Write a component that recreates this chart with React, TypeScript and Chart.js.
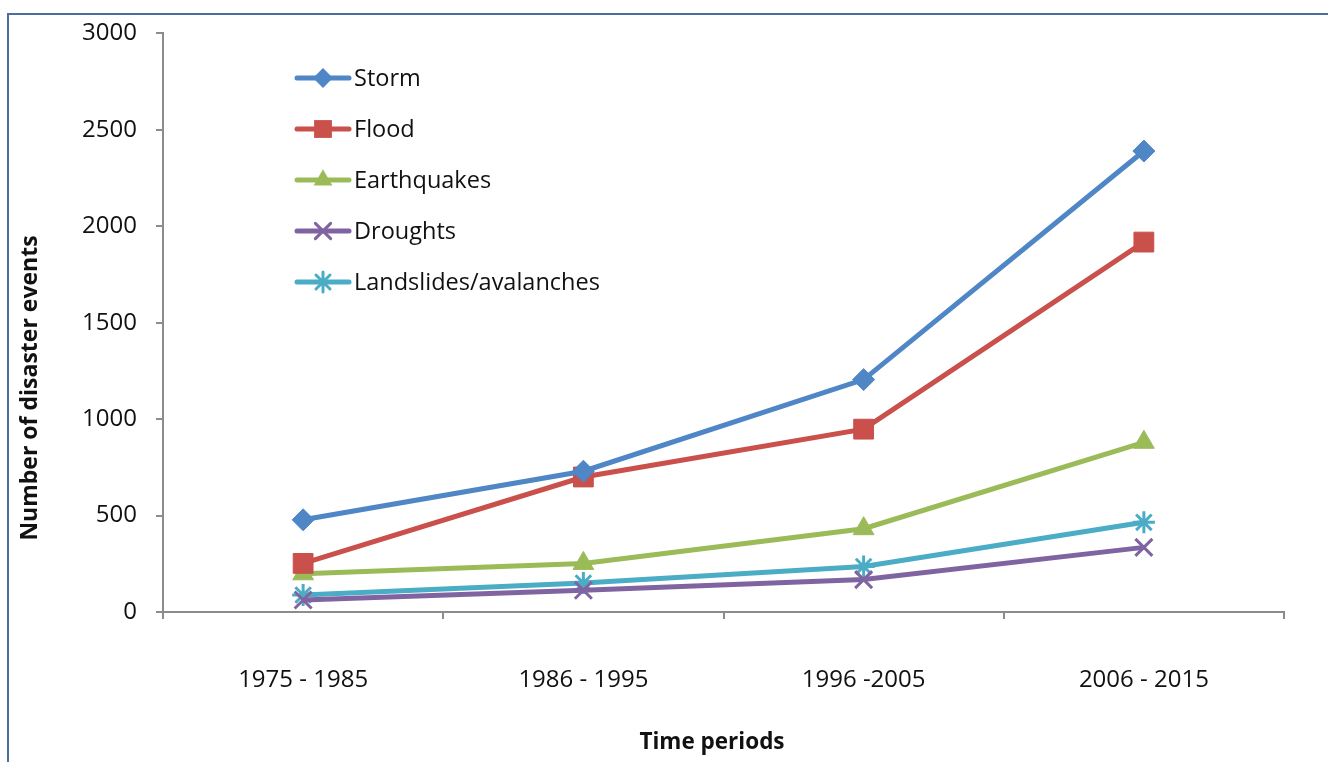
import React, { useEffect, useRef } from "react";
import { Chart, registerables } from "chart.js";

Chart.register(...registerables);

const categories = ["1975 - 1985", "1986 - 1995", "1996 -2005", "2006 - 2015"];
const storm = [478, 730, 1205, 2390];
const flood = [252, 700, 948, 1918];
const earthquakes = [198, 252, 432, 880];
const droughts = [62, 113, 168, 335];
const landslides = [88, 150, 236, 465];
const yTicks = [0, 500, 1000, 1500, 2000, 2500, 3000];
const xTitle = "Time periods";
const yTitle = "Number of disaster events";

const FONT = "'Open Sans', 'Liberation Sans', sans-serif";

const seriesDefs = [
  { label: "Storm", data: storm, color: "#4F86C6", style: "rectRot", radius: 11 },
  { label: "Flood", data: flood, color: "#C9504B", style: "rect", radius: 14 },
  { label: "Earthquakes", data: earthquakes, color: "#9BBB59", style: "triangle", radius: 12 },
  { label: "Droughts", data: droughts, color: "#8064A2", style: "crossRot", radius: 12 },
  { label: "Landslides/avalanches", data: landslides, color: "#4BACC6", style: "star", radius: 11 },
];

function drawPointShape(ctx: CanvasRenderingContext2D, style: string, r: number, x: number, y: number) {
  ctx.beginPath();
  const Q = Math.PI / 4;
  if (style === "rectRot") {
    ctx.moveTo(x, y - r);
    ctx.lineTo(x + r, y);
    ctx.lineTo(x, y + r);
    ctx.lineTo(x - r, y);
    ctx.closePath();
    ctx.fill();
  } else if (style === "rect") {
    const s = Math.SQRT1_2 * r;
    ctx.rect(x - s, y - s, 2 * s, 2 * s);
    ctx.fill();
  } else if (style === "triangle") {
    ctx.moveTo(x, y - r);
    ctx.lineTo(x + r * 0.866, y + r * 0.5);
    ctx.lineTo(x - r * 0.866, y + r * 0.5);
    ctx.closePath();
    ctx.fill();
  } else if (style === "crossRot") {
    const o = Math.cos(Q) * r;
    ctx.moveTo(x - o, y - o);
    ctx.lineTo(x + o, y + o);
    ctx.moveTo(x - o, y + o);
    ctx.lineTo(x + o, y - o);
    ctx.stroke();
  } else if (style === "star") {
    const o = Math.cos(Q) * r;
    ctx.moveTo(x - o, y - o);
    ctx.lineTo(x + o, y + o);
    ctx.moveTo(x - o, y + o);
    ctx.lineTo(x + o, y - o);
    ctx.moveTo(x, y - r);
    ctx.lineTo(x, y + r);
    ctx.moveTo(x - r, y);
    ctx.lineTo(x + r, y);
    ctx.stroke();
  }
}

const legendPlugin = {
  id: "insideLegend",
  afterDraw(chart: any, _args: any, opts: any) {
    const ctx = chart.ctx;
    const { x0, y0, step, lineLen, textGap } = opts;
    chart.data.datasets.forEach((ds: any, i: number) => {
      const y = y0 + i * step;
      ctx.save();
      ctx.strokeStyle = ds.borderColor;
      ctx.lineWidth = 5;
      ctx.lineCap = "round";
      ctx.beginPath();
      ctx.moveTo(x0, y);
      ctx.lineTo(x0 + lineLen, y);
      ctx.stroke();
      ctx.fillStyle = ds.pointBackgroundColor;
      ctx.strokeStyle = ds.pointBorderColor;
      ctx.lineWidth = ds.pointBorderWidth;
      drawPointShape(ctx, ds.pointStyle, ds.pointRadius * 0.9, x0 + lineLen / 2, y);
      ctx.fillStyle = "#111";
      ctx.font = `23.5px ${FONT}`;
      ctx.textBaseline = "middle";
      ctx.textAlign = "left";
      ctx.fillText(ds.label, x0 + lineLen + textGap, y + 1);
      ctx.restore();
    });
  },
};

const titlesPlugin = {
  id: "axisTitles",
  afterDraw(chart: any, _args: any, opts: any) {
    const ctx = chart.ctx;
    ctx.save();
    ctx.fillStyle = "#111";
    ctx.font = `bold 22.5px ${FONT}`;
    ctx.textAlign = "center";
    ctx.textBaseline = "middle";
    ctx.fillText(opts.xText, opts.xX, opts.xY);
    ctx.translate(opts.yX, opts.yY);
    ctx.rotate(-Math.PI / 2);
    ctx.font = `bold 23px ${FONT}`;
    ctx.fillText(opts.yText, 0, 0);
    ctx.restore();
  },
};

export default function App() {
  const canvasRef = useRef<HTMLCanvasElement | null>(null);

  useEffect(() => {
    if (!canvasRef.current) return;
    const axisColor = "#8C8C8C";
    const chart = new Chart(canvasRef.current, {
      type: "line",
      data: {
        labels: categories,
        datasets: seriesDefs.map((s) => ({
          label: s.label,
          data: s.data,
          borderColor: s.color,
          backgroundColor: s.color,
          borderWidth: 5,
          pointStyle: s.style as any,
          pointRadius: s.radius,
          pointBackgroundColor: s.color,
          pointBorderColor: s.color,
          pointBorderWidth: s.style === "crossRot" || s.style === "star" ? 3 : 1,
          tension: 0,
        })),
      },
      options: {
        animation: false,
        responsive: false,
        events: [],
        layout: { padding: { top: 27, right: 44, left: 0, bottom: 0 } },
        plugins: {
          legend: { display: false },
          tooltip: { enabled: false },
          insideLegend: { x0: 297, y0: 78, step: 51, lineLen: 52, textGap: 5 },
          axisTitles: { xText: xTitle, xX: 712, xY: 743, yText: yTitle, yX: 30, yY: 388 },
        } as any,
        scales: {
          x: {
            type: "category",
            offset: true,
            grid: {
              offset: true,
              drawOnChartArea: false,
              drawTicks: true,
              tickLength: 7,
              color: axisColor,
              lineWidth: 2,
            },
            border: { color: axisColor, width: 2 },
            ticks: {
              color: "#111",
              font: { family: FONT, size: 24 },
              padding: 47,
              maxRotation: 0,
            },
            afterFit(scale: any) {
              scale.height = 150;
            },
          },
          y: {
            type: "linear",
            min: 0,
            max: 3000,
            afterBuildTicks(scale: any) {
              scale.ticks = yTicks.map((v) => ({ value: v }));
            },
            grid: {
              drawOnChartArea: false,
              drawTicks: true,
              tickLength: 7,
              color: axisColor,
              lineWidth: 2,
            },
            border: { color: axisColor, width: 2 },
            ticks: {
              color: "#111",
              font: { family: FONT, size: 24 },
              padding: 19,
              callback: (v: any) => String(v),
            },
            afterFit(scale: any) {
              scale.width = 163;
            },
          },
        },
      },
      plugins: [legendPlugin, titlesPlugin],
    });
    return () => chart.destroy();
  }, []);

  return (
    <div style={{ position: "absolute", left: 0, top: 0, width: 1328, height: 762, background: "#fff", overflow: "hidden" }}>
      <div
        style={{
          position: "absolute",
          left: 7,
          top: 13,
          width: 1340,
          height: 800,
          borderLeft: "2px solid #4A6F9F",
          borderTop: "2px solid #4A6F9F",
        }}
      />
      <canvas ref={canvasRef} width={1328} height={762} style={{ position: "absolute", left: 0, top: 0 }} />
    </div>
  );
}
